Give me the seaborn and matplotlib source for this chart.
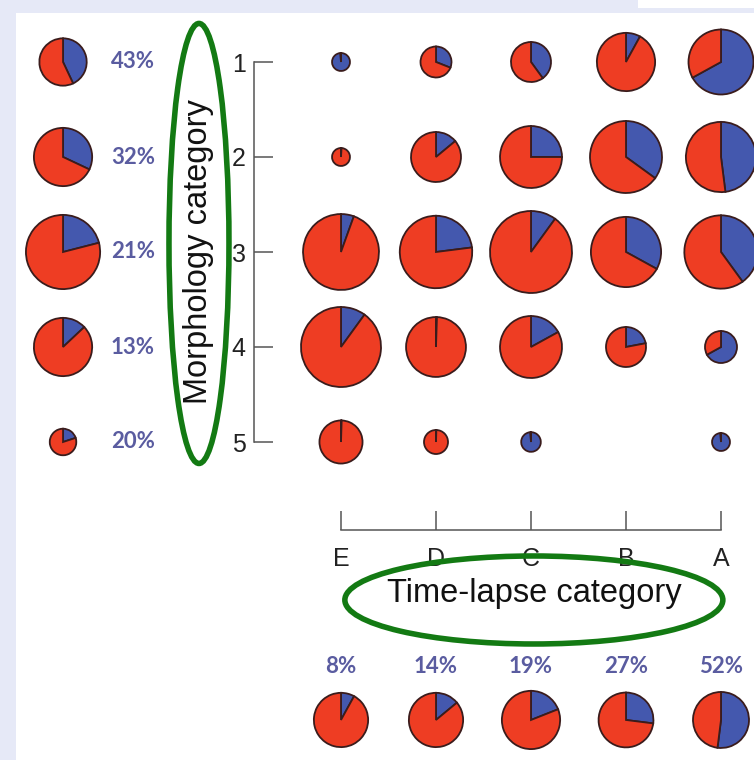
import numpy as np
import matplotlib
matplotlib.use("Agg")
import matplotlib.pyplot as plt
from matplotlib.patches import Ellipse, Rectangle
import seaborn as sns

# ----------------------
# Data
# ----------------------
time_cats = ["E", "D", "C", "B", "A"]
morph_cats = ["1", "2", "3", "4", "5"]

# fraction of blue in each cell (rows = morphology 1..5, cols = time-lapse E..A)
blue_frac = [
    [0.99, 0.31, 0.40, 0.08, 0.67],
    [0.01, 0.14, 0.25, 0.35, 0.48],
    [0.055, 0.23, 0.10, 0.33, 0.40],
    [0.10, 0.005, 0.17, 0.22, 0.67],
    [0.005, 0.005, 0.99, 0.0, 0.99],
]
# number of cells per category pair (pie area)
cell_n = [
    [5, 15, 25, 53, 66],
    [5, 39, 60, 81, 77],
    [90, 82, 105, 77, 84],
    [100, 56, 60, 25, 16],
    [29, 9, 6, 0, 5],
]

# marginal pies
row_pct = [43, 32, 21, 13, 20]
row_n = [35, 53, 86, 53, 11]
col_pct = [8, 14, 19, 27, 52]
col_n = [46, 46, 53, 47, 49]

# ----------------------
# Style
# ----------------------
sns.set_theme(style="white")
plt.rcParams["font.family"] = ["Liberation Sans", "DejaVu Sans"]

RED = "#EE3D23"
BLUE = "#4458AE"
EDGE = "#3a1c1c"
PCT_COL = "#5A5CA0"
GREEN = "#137A13"
BG = "#E6E9F7"

PX = 95.0  # pixels per data unit


def rad(n):
    return 4 * np.sqrt(n) / PX


def draw_pie(ax, frac, n, x, y):
    if n <= 0:
        return
    ax.pie([frac, 1 - frac], colors=[BLUE, RED], center=(x, y), radius=rad(n),
           startangle=90, counterclock=False, frame=True,
           wedgeprops=dict(edgecolor=EDGE, linewidth=1.3))


fig = plt.figure(figsize=(7.54, 7.6), dpi=100)
fig.patch.set_facecolor(BG)
fig.add_artist(Rectangle((16 / 754, 0), 1, 1 - 13 / 760, transform=fig.transFigure,
                         facecolor="white", edgecolor="none", zorder=-5))
fig.add_artist(Rectangle((638 / 754, 1 - 8 / 760), 1, 1, transform=fig.transFigure,
                         facecolor="white", edgecolor="none", zorder=-5))

ax = fig.add_axes([0, 0, 1, 1])
ax.patch.set_alpha(0)

xs = np.arange(len(time_cats))
ys = -np.arange(len(morph_cats))

# grid of pies
for j in range(len(morph_cats)):
    for i in range(len(time_cats)):
        draw_pie(ax, blue_frac[j][i], cell_n[j][i], xs[i], ys[j])

# left marginal pies + percentages
for j in range(len(morph_cats)):
    draw_pie(ax, row_pct[j] / 100, row_n[j], -2.926, ys[j])
    ax.text(-2.19, ys[j], f"{row_pct[j]}%", ha="center", va="center",
            fontsize=16, fontweight="bold", color=PCT_COL, family=["Lato", "DejaVu Sans"])

# bottom marginal pies + percentages
for i in range(len(time_cats)):
    draw_pie(ax, col_pct[i] / 100, col_n[i], xs[i], -6.926)
    ax.text(xs[i], -6.368, f"{col_pct[i]}%", ha="center", va="center",
            fontsize=16, fontweight="bold", color=PCT_COL, family=["Lato", "DejaVu Sans"])

# axes / spines
ax.set_xlim(-341 / PX, 413 / PX)
ax.set_ylim(-(2 + 508 / PX), -(2 - 252 / PX))
ax.set_aspect("auto")
ax.set_frame_on(True)
sns.despine(ax=ax, top=True, right=True)
for s in ["left", "bottom"]:
    ax.spines[s].set_visible(True)
    ax.spines[s].set_color("#555555")
    ax.spines[s].set_linewidth(1.1)
ax.spines["left"].set_position(("data", -87 / PX))
ax.spines["left"].set_bounds(ys[-1], ys[0])
ax.spines["bottom"].set_position(("data", -(2 + 278 / PX)))
ax.spines["bottom"].set_bounds(xs[0], xs[-1])

ax.set_xticks(xs, time_cats)
ax.set_yticks(ys, morph_cats)
ax.tick_params(axis="both", direction="in", length=13.5, width=1.1, color="#555555",
               labelsize=18, labelcolor="#222222", bottom=True, left=True,
               top=False, right=False)
ax.tick_params(axis="x", pad=12)
ax.tick_params(axis="y", pad=6)

# axis titles with green ellipses
ax.text(-1.5, -2.0, "Morphology category", rotation=90, ha="center", va="center",
        fontsize=23.5, color="#111111")
ax.text(2.03, -5.59, "Time-lapse category", ha="center", va="center",
        fontsize=23.5, color="#111111")
ax.add_patch(Ellipse((-1.495, -1.91), 60 / PX, 440 / PX, fill=False,
                     edgecolor=GREEN, linewidth=4, zorder=5))
ax.add_patch(Ellipse((2.03, -5.663), 378 / PX, 88 / PX, fill=False,
                     edgecolor=GREEN, linewidth=4, zorder=5))

fig.savefig("out.png", dpi=100, facecolor=fig.get_facecolor())
